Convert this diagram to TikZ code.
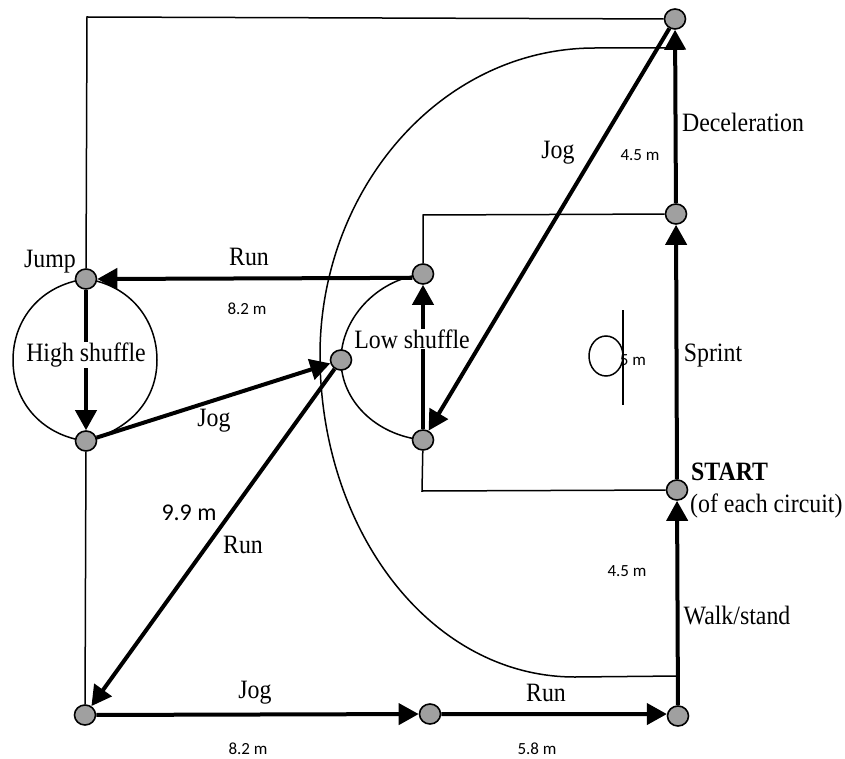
\documentclass[tikz,border=0pt]{standalone}
\usepackage{fontspec}
\setmainfont[FakeStretch=0.9]{Liberation Serif}
\newfontfamily\tagfont{Carlito}
\usepackage{xcolor}
\usetikzlibrary{arrows.meta,backgrounds,shapes.geometric}
\definecolor{markergray}{HTML}{A0A0A0}
\tikzset{
  marker/.style={ellipse,draw=black,line width=1.6pt,fill=markergray,inner sep=0pt,
    minimum width=21pt,minimum height=20pt},
  thinline/.style={draw=black,line width=1.5pt},
  arrow/.style={-{Triangle[length=20pt,width=21pt]},line width=4pt,draw=black},
  stage/.style={font=\fontsize{26.5}{30}\selectfont,inner sep=1pt},
  cover/.style={stage,fill=white},
  tag/.style={font=\tagfont\fontsize{17}{20}\selectfont,inner sep=0pt}
}
\begin{document}
\begin{tikzpicture}[x=1pt,y=-1pt]
  \useasboundingbox (0,0) rectangle (845,759);
  \node[marker] (top) at (675,19) {};
  \node[marker] (decel) at (676,214) {};
  \node[marker] (start) at (677,490) {};
  \node[marker] (cornerright) at (678,716) {};
  \node[marker] (middle) at (430,714) {};
  \node[marker] (cornerleft) at (85,715) {};
  \node[marker] (highbottom) at (86,441) {};
  \node[marker] (jump) at (86,279) {};
  \node[marker] (lowtop) at (423,274) {};
  \node[marker] (lowbottom) at (423,440) {};
  \node[marker] (turn) at (341,360) {};
  \coordinate (cornertop) at (87,17);
  \coordinate (boxtop) at (423,215);
  \coordinate (boxbottom) at (422,491);
  \coordinate (arctop) at (676,48);
  \coordinate (arcbottom) at (678,676);
  \begin{scope}[on background layer]
    \draw[thinline] (top) -- (cornertop) -- (jump);
    \draw[thinline] (highbottom) -- (cornerleft);
    \draw[thinline] (decel) -- (boxtop) -- (lowtop);
    \draw[thinline] (lowbottom) -- (boxbottom) -- (start);
    \draw[thinline] (arctop) -- (595,48) .. controls (440,48) and (320,190) .. (320,355)
      .. controls (320,530) and (430,677) .. (575,677) -- (arcbottom);
    \draw[thinline] (jump.center) .. controls (40,285) and (13,320) .. (13,360)
      .. controls (13,405) and (45,436) .. (highbottom.center);
    \draw[thinline] (jump.center) .. controls (130,285) and (157,320) .. (157,360)
      .. controls (157,400) and (130,430) .. (highbottom.center);
    \draw[thinline] (lowtop.center) .. controls (375,280) and (341,320) .. (turn.center)
      .. controls (341,400) and (375,435) .. (lowbottom.center);
  \end{scope}
  \draw[arrow] (lowtop.200) -- (jump.east);
  \draw[arrow] (jump) -- (highbottom);
  \draw[arrow] (highbottom) -- (turn);
  \draw[arrow] (turn) -- (cornerleft);
  \draw[arrow] (cornerleft) -- (middle);
  \draw[arrow] (middle.east) -- (cornerright.170);
  \draw[arrow] (cornerright) -- (start);
  \draw[arrow] (start) -- (decel);
  \draw[arrow] (decel) -- (top);
  \draw[arrow] (top) -- (lowbottom);
  \draw[arrow] (lowbottom) -- (lowtop);
  % head and line of the small figure
  \node[ellipse,thinline,minimum width=34pt,minimum height=40pt,inner sep=0pt] (head) at (606,356) {};
  \coordinate (figuretop) at (623,310);
  \coordinate (figurebottom) at (623,405);
  \draw[thinline] (figuretop) -- (figurebottom);
  \node[stage] (jumplabel) at (50,262) {Jump};
  \node[cover] (highlabel) at (86,355) {High shuffle};
  \node[cover] (lowlabel) at (412,339) {Low shuffle};
  \node[stage] (runtop) at (249,257) {Run};
  \node[stage] (jogmid) at (214,421) {Jog};
  \node[stage] (rundiag) at (243,545) {Run};
  \node[stage] (jogbottom) at (255,693) {Jog};
  \node[stage] (runbottom) at (546,693) {Run};
  \node[stage] (jogtop) at (558,153) {Jog};
  \node[stage] (decellabel) at (743,122) {Deceleration};
  \node[stage] (sprintlabel) at (713,356) {Sprint};
  \node[stage] (walklabel) at (737,616) {Walk/stand};
  \node[stage,anchor=west,font=\fontsize{26.5}{30}\selectfont\bfseries] (startlabel) at (690,472) {START};
  \node[stage,anchor=west] (circuitlabel) at (689,506) {(of each circuit)};
  \node[tag] (lengthrun) at (247,309) {8.2 m};
  \node[tag] (lengthdecel) at (640,155) {4.5 m};
  \node[tag] (lengthsprint) at (633,360) {5 m};
  \node[tag] (lengthwalk) at (627,571) {4.5 m};
  \node[tag] (lengthjog) at (248,749) {8.2 m};
  \node[tag] (lengthend) at (537,749) {5.8 m};
  \node[tag,font=\tagfont\fontsize{24}{28}\selectfont] (lengthdiag) at (189,513) {9.9 m};
\end{tikzpicture}
\end{document}
